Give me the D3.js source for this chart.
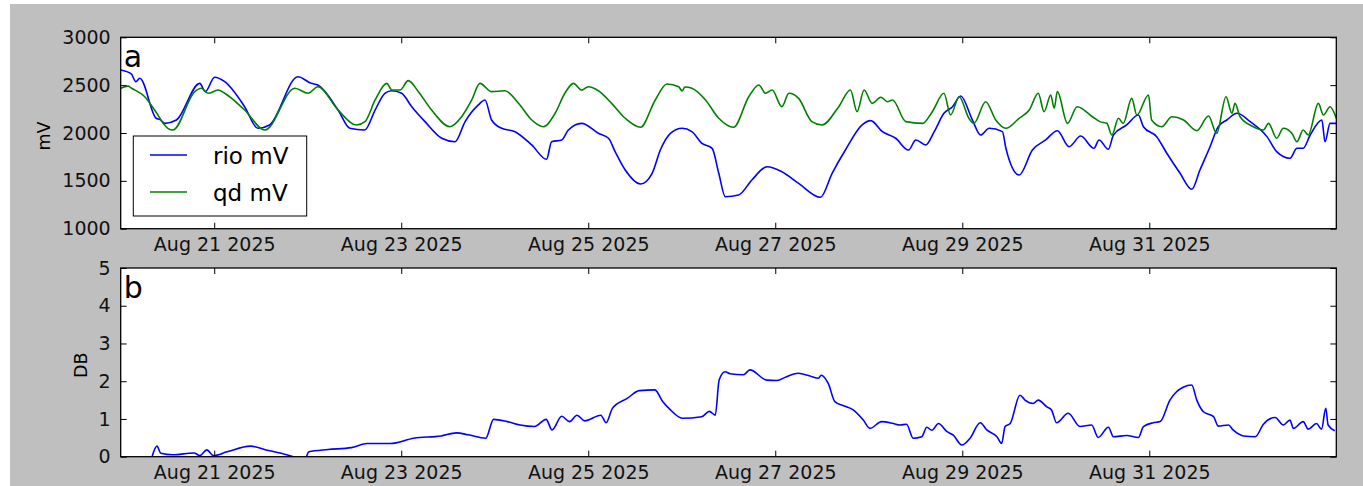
<!DOCTYPE html>
<html>
<head>
<meta charset="utf-8">
<script src="https://cdn.jsdelivr.net/npm/d3@7"></script>
<style>
body {margin:0; background:#fff;}
svg {display:block; font-family:"DejaVu Sans", sans-serif;}
</style>
</head>
<body>
<div id="canvas"></div>
<script>
/* readings: [hours after Aug 20 2025 00:00, value] */
var rioPoints = [[0,2658],[2.7,2617],[3.9,2536],[4.9,2572],[9.1,2154],[10.1,2140],[11.3,2101],[14.3,2136],[20.3,2519],[21.7,2432],[24.1,2582],[26.7,2536],[31.8,2275],[35.2,2049],[38.2,2084],[45.5,2588],[48.9,2519],[50.6,2502],[55.8,2240],[58.8,2049],[62.6,2031],[65.3,2240],[67.8,2415],[69.6,2442],[72.1,2415],[74.7,2275],[78.1,2119],[82.4,1945],[85.8,1909],[88.4,2119],[91.8,2293],[93.5,2345],[95.2,2136],[97.8,2049],[101.2,2014],[105.5,1875],[109.3,1725],[110.6,1909],[113.2,1927],[114.9,2031],[118.3,2101],[122.6,1997],[125.2,1945],[126.9,1805],[129.5,1613],[133.4,1467],[136.4,1579],[138.5,1822],[141.1,1997],[144.1,2049],[146.6,2014],[149.2,1892],[151.8,1840],[153.5,1579],[155.2,1334],[158.6,1352],[162.0,1509],[165.9,1648],[169.7,1596],[174.0,1474],[179.6,1328],[182.6,1579],[186.0,1822],[190.3,2084],[192.5,2129],[195.5,2014],[198.9,1945],[202.2,1822],[204.1,1927],[206.6,1875],[208.8,2014],[211.3,2206],[213.5,2275],[215.6,2387],[218.6,2136],[220.7,1979],[222.9,2049],[226.3,2014],[227.2,1840],[230.6,1561],[234.0,1822],[237.4,1927],[240.4,2024],[243.4,1857],[246.4,1968],[249.8,1840],[251.1,1927],[253.5,1830],[254.8,1979],[258.2,2084],[261.2,2188],[262.5,2066],[265.9,1962],[268.5,1788],[271.9,1579],[274.9,1412],[277.0,1613],[279.6,1857],[281.7,2066],[283.9,2136],[286.5,2206],[289.9,2119],[294.2,1962],[296.7,1805],[300.1,1736],[301.9,1840],[303.5,1840],[305.3,1979],[308.3,2136],[309.1,1909],[310.4,2101],[312,2101]];

var qdPoints = [[0,2467],[1.9,2490],[2.7,2470],[6.2,2379],[8.7,2240],[12.1,2049],[13.4,2031],[19.0,2432],[20.7,2467],[22.4,2415],[25.0,2449],[26.7,2415],[31.8,2240],[37.0,2031],[44.7,2467],[48.1,2415],[50.6,2484],[55.8,2240],[60.5,2084],[62.7,2119],[65.3,2345],[68.3,2519],[69.6,2449],[71.7,2449],[73.8,2547],[76.4,2432],[79.8,2240],[84.5,2066],[87.5,2170],[90.1,2345],[92.2,2519],[95.2,2432],[98.6,2442],[102.1,2310],[105.5,2136],[108.5,2066],[111.5,2206],[114.0,2415],[116.2,2519],[118.3,2449],[120.0,2484],[122.6,2442],[126.0,2310],[129.5,2154],[133.4,2060],[137.2,2345],[140.2,2512],[143.2,2484],[144.1,2440],[144.8,2480],[146.6,2467],[150.1,2345],[153.5,2154],[157.3,2060],[161.2,2379],[163.8,2502],[165.5,2415],[167.2,2449],[169.7,2275],[171.5,2415],[174.0,2362],[177.4,2119],[180.0,2084],[184.3,2275],[187.3,2449],[189.0,2223],[190.8,2449],[192.9,2310],[195.1,2373],[196.8,2327],[198.1,2345],[201.5,2119],[205.8,2101],[208.3,2223],[211.3,2415],[213.0,2188],[215.2,2379],[217.7,2154],[219.0,2101],[222.0,2327],[224.6,2136],[227.2,2049],[230.6,2154],[233.2,2240],[235.5,2415],[237.0,2223],[238.7,2397],[239.6,2258],[240.4,2432],[243.0,2101],[245.5,2275],[249.4,2170],[251.3,2119],[253.1,2101],[254.4,1979],[256.1,2154],[257.3,2101],[259.5,2362],[260.8,2188],[263.8,2397],[264.6,2136],[267.2,2066],[269.8,2170],[272.8,2136],[276.2,2024],[279.2,2177],[281.3,1997],[283.7,2379],[285.2,2206],[286.0,2310],[287.3,2170],[290.7,2066],[293.3,2031],[294.6,2101],[296.7,1945],[298.4,2049],[300.6,1997],[301.9,1909],[303.5,2031],[304.8,1979],[307.4,2310],[308.7,2188],[310.4,2275],[312,2154]];

var dbPoints = [[8.1,0.02],[9.3,0.28],[10.3,0.09],[13.3,0.05],[18.8,0.10],[20.3,0.03],[22.1,0.18],[23.8,0.03],[27.3,0.13],[33.3,0.28],[37.3,0.18],[41.2,0.09],[44.3,0.0],[45.5,-0.05],[47.3,-0.05],[48.3,0.13],[53.2,0.19],[59.2,0.24],[63.2,0.35],[69.2,0.35],[75.2,0.49],[82.2,0.55],[86.2,0.63],[89.2,0.58],[93.7,0.49],[95.7,0.99],[99.2,0.93],[102.5,0.84],[106.2,0.80],[109.2,0.99],[110.7,0.71],[113.2,1.07],[115.2,0.93],[117.1,1.10],[119.1,0.95],[123.2,1.10],[124.6,0.90],[126.2,1.28],[130.1,1.55],[133.1,1.75],[137.1,1.77],[139.1,1.46],[141.1,1.24],[144.1,1.02],[149.1,1.06],[151.1,1.20],[152.6,1.10],[153.6,2.03],[155.1,2.25],[156.4,2.20],[159.8,2.17],[161.5,2.30],[165.8,2.03],[168.4,2.02],[170.9,2.12],[173.9,2.21],[176.9,2.14],[179.1,2.08],[179.8,2.16],[181.6,1.94],[183.3,1.46],[185.5,1.35],[188.0,1.24],[190.6,0.97],[192.3,0.75],[195.3,0.93],[198.3,0.88],[200.0,0.84],[201.7,0.86],[203.4,0.49],[205.6,0.53],[206.9,0.78],[208.2,0.70],[209.9,0.88],[212.0,0.67],[213.7,0.57],[215.9,0.31],[218.0,0.49],[220.6,0.90],[222.3,0.71],[224.9,0.53],[226.1,0.35],[227.0,0.80],[228.3,0.88],[230.8,1.63],[232.1,1.50],[234.2,1.41],[235.5,1.50],[237.7,1.32],[238.9,1.24],[240.2,0.90],[243.2,1.15],[246.2,0.80],[249.2,0.84],[250.9,0.51],[253.5,0.78],[254.8,0.53],[258.2,0.56],[261.2,0.51],[262.5,0.80],[265.0,0.90],[266.8,0.93],[269.3,1.50],[271.0,1.72],[272.7,1.84],[274.9,1.90],[276.2,1.50],[277.9,1.19],[280.5,1.06],[281.7,0.81],[284.3,0.84],[285.5,0.71],[288.2,0.55],[291.2,0.53],[293.3,0.86],[296.3,1.04],[298.4,0.84],[300.1,0.97],[301.0,0.75],[303.5,0.93],[304.8,0.73],[306.9,0.88],[308.2,0.73],[309.3,1.28],[309.9,0.84],[311.6,0.69]];

var mvTicks = [1000, 1500, 2000, 2500, 3000];
var dbTicks = [0, 1, 2, 3, 4, 5];
var dateTicks = ["2025-08-21", "2025-08-23", "2025-08-25", "2025-08-27", "2025-08-29", "2025-08-31"];
var seriesNames = ["rio mV", "qd mV"];
var seriesColors = ["#0000ff", "#008000"];

var width = 1363, height = 486;
var left = 120.7, right = 1336.3;

var svg = d3.select('#canvas')
    .append('svg')
    .attr('width', width)
    .attr('height', height);

// gray figure background
svg.append('rect')
    .attr('x', 10)
    .attr('y', 4)
    .attr('width', width - 10)
    .attr('height', height - 4)
    .style('fill', '#bfbfbf');

var start = new Date(2025, 7, 20);
function toDate(h) { return new Date(start.getTime() + h * 3600000); }

var x = d3.scaleTime()
    .domain([start, toDate(312)])
    .range([left, right]);

var parseDay = d3.timeParse("%Y-%m-%d");
var tickDates = dateTicks.map(parseDay);
var fmt = d3.timeFormat("%b %d %Y");

function drawPanel(id, top, h, yDomain, yTicks, series, letter, yLabel, labelX) {
    var y = d3.scaleLinear().domain(yDomain).range([top + h, top]);
    var g = svg.append('g');

    g.append('rect')
        .attr('x', left).attr('y', top)
        .attr('width', right - left).attr('height', h)
        .style('fill', 'white');

    g.append('clipPath').attr('id', 'clip-' + id)
        .append('rect')
        .attr('x', left).attr('y', top)
        .attr('width', right - left).attr('height', h);

    var line = d3.line()
        .curve(d3.curveMonotoneX)
        .x(function(d) { return x(toDate(d[0])); })
        .y(function(d) { return y(d[1]); });

    series.forEach(function(s) {
        g.append('path')
            .datum(s.points)
            .attr('clip-path', 'url(#clip-' + id + ')')
            .attr('d', line)
            .style('fill', 'none')
            .style('stroke', s.color)
            .style('stroke-width', 1.6)
            .style('stroke-linejoin', 'round');
    });

    // ticks point inward on all four sides
    var bottomAxis = g.append('g')
        .attr('transform', 'translate(0,' + (top + h) + ')')
        .call(d3.axisBottom(x).tickValues(tickDates).tickFormat(fmt).tickSizeInner(-6).tickSizeOuter(0).tickPadding(9));
    g.append('g')
        .attr('transform', 'translate(0,' + top + ')')
        .call(d3.axisTop(x).tickValues(tickDates).tickFormat('').tickSizeInner(-6).tickSizeOuter(0));
    var leftAxis = g.append('g')
        .attr('transform', 'translate(' + left + ',0)')
        .call(d3.axisLeft(y).tickValues(yTicks).tickFormat(d3.format('d')).tickSizeInner(-6).tickSizeOuter(0).tickPadding(10));
    g.append('g')
        .attr('transform', 'translate(' + right + ',0)')
        .call(d3.axisRight(y).tickValues(yTicks).tickFormat('').tickSizeInner(-6).tickSizeOuter(0));

    g.selectAll('.domain').remove();
    g.selectAll('.tick line').style('stroke', 'black');
    [bottomAxis, leftAxis].forEach(function(a) {
        a.attr('font-family', null).attr('font-size', null);
        a.selectAll('text')
            .style('font-family', '"DejaVu Sans", sans-serif')
            .style('font-size', '19px')
            .style('fill', '#111');
    });

    g.append('rect')
        .attr('x', left).attr('y', top)
        .attr('width', right - left).attr('height', h)
        .style('fill', 'none')
        .style('stroke', 'black')
        .style('stroke-width', 1.3);

    g.append('text')
        .attr('x', left + 3)
        .attr('y', top + 30)
        .style('font-size', '30px')
        .text(letter);

    g.append('text')
        .attr('transform', 'translate(' + labelX + ',' + (top + h / 2 + 3) + ') rotate(-90)')
        .attr('text-anchor', 'middle')
        .style('font-size', '17.5px')
        .text(yLabel);

    return g;
}

var panelA = drawPanel('a', 37.3, 191.4, [1000, 3000], mvTicks,
    [{points: rioPoints, color: seriesColors[0]}, {points: qdPoints, color: seriesColors[1]}],
    'a', 'mV', 49.5);

drawPanel('b', 268, 188.7, [0, 5], dbTicks,
    [{points: dbPoints, color: seriesColors[0]}],
    'b', 'DB', 86.5);

// legend box in panel a
var legend = panelA.append('g');
legend.append('rect')
    .attr('x', 133.3).attr('y', 136)
    .attr('width', 173.4).attr('height', 80)
    .style('fill', 'white')
    .style('stroke', 'black')
    .style('stroke-width', 1);

seriesNames.forEach(function(name, i) {
    var ly = 155 + i * 37;
    legend.append('line')
        .attr('x1', 150).attr('x2', 187)
        .attr('y1', ly).attr('y2', ly)
        .style('stroke', seriesColors[i])
        .style('stroke-width', 1.6);
    legend.append('text')
        .attr('x', 213)
        .attr('y', ly + 8.5)
        .style('font-size', '23px')
        .text(name);
});
</script>
</body>
</html>
